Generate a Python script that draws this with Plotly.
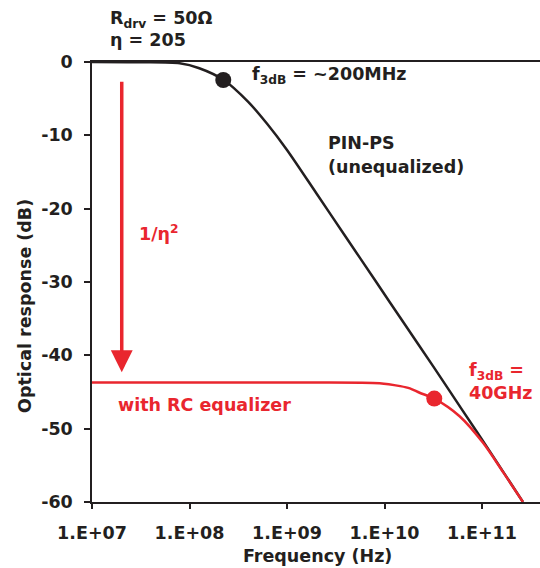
import plotly.graph_objects as go

# ---- data ----
pin_freq_hz = [1.0e7, 3.16e7, 7.94e7, 1.26e8, 2.24e8, 3.98e8, 6.31e8, 1.0e9, 2.0e9,
               3.98e9, 7.94e9, 1.58e10, 3.16e10, 6.31e10, 1.26e11, 2.63e11]
pin_resp_db = [0.0, -0.04, -0.18, -0.85, -2.45, -5.4, -8.5, -12.0, -17.9,
               -23.8, -29.7, -35.6, -41.5, -47.5, -53.5, -60.0]

eq_freq_hz = [1.0e7, 1.26e9, 8.91e9, 1.45e10, 1.82e10, 2.29e10, 3.24e10,
              5.89e10, 1.02e11, 1.66e11, 2.63e11]
eq_resp_db = [-43.7, -43.7, -43.8, -44.2, -44.5, -45.1, -45.9,
              -48.3, -51.9, -56.0, -60.0]

pin_f3db = [2.22e8]
pin_f3db_db = [-2.45]
eq_f3db = [3.24e10]
eq_f3db_db = [-45.9]

x_tickvals = [1e7, 1e8, 1e9, 1e10, 1e11]
x_ticktext = ["1.E+07", "1.E+08", "1.E+09", "1.E+10", "1.E+11"]
y_tickvals = [0, -10, -20, -30, -40, -50, -60]
y_ticktext = ["0", "-10", "-20", "-30", "-40", "-50", "-60"]

BLACK = "#231F20"
RED = "#E9262E"
FONT = "DejaVu Sans"
FS = 17.5

W, H = 540, 568
ML, MR, MT, MB = 92, 0, 62, 66
PW, PH = W - ML - MR, H - MT - MB
DEC_PX = 97.5
x_range = [7.0, 7.0 + PW / DEC_PX]


def px(xp):
    return (xp - ML) / PW


def py(yp):
    return (H - MB - yp) / PH


bold = lambda s: "<b>" + s + "</b>"

fig = go.Figure()
fig.add_trace(go.Scatter(x=pin_freq_hz, y=pin_resp_db, mode="lines",
                         line=dict(color=BLACK, width=2.5, shape="spline", smoothing=0.8),
                         hoverinfo="skip", showlegend=False))
fig.add_trace(go.Scatter(x=eq_freq_hz, y=eq_resp_db, mode="lines",
                         line=dict(color=RED, width=2.5, shape="spline", smoothing=0.8),
                         hoverinfo="skip", showlegend=False))
fig.add_trace(go.Scatter(x=pin_f3db, y=pin_f3db_db, mode="markers",
                         marker=dict(color=BLACK, size=16), showlegend=False))
fig.add_trace(go.Scatter(x=eq_f3db, y=eq_f3db_db, mode="markers",
                         marker=dict(color=RED, size=16), showlegend=False))

texts = [
    (bold("R<sub>drv</sub> = 50Ω"), 108, 19, BLACK),
    (bold("η = 205"), 108, 40, BLACK),
    (bold("f<sub>3dB</sub> = ~200MHz"), 250, 75, BLACK),
    (bold("PIN-PS"), 326, 143, BLACK),
    (bold("(unequalized)"), 326, 167, BLACK),
    (bold("1/η<sup>2</sup>"), 137, 233, RED),
    (bold("with RC equalizer"), 116, 405, RED),
    (bold("f<sub>3dB</sub> ="), 467, 371, RED),
    (bold("40GHz"), 467, 393, RED),
]
for t, x, y, c in texts:
    fig.add_annotation(text=t, xref="paper", yref="paper", x=px(x), y=py(y),
                       xanchor="left", yanchor="middle", showarrow=False,
                       font=dict(family=FONT, size=FS, color=c))

# 1/eta^2 arrow
fig.add_annotation(x=7.305, y=-42.3, ax=7.305, ay=-2.5, xref="x", yref="y",
                   axref="x", ayref="y", showarrow=True, arrowhead=2,
                   arrowsize=1.25, arrowwidth=3.5, arrowcolor=RED, standoff=0, text="")

# axis titles
fig.add_annotation(text=bold("Frequency (Hz)"), xref="paper", yref="paper",
                   x=px(317), y=py(556), xanchor="center", yanchor="middle",
                   showarrow=False, font=dict(family=FONT, size=FS, color=BLACK))
fig.add_annotation(text=bold("Optical response (dB)"), xref="paper", yref="paper",
                   x=px(25), y=py(306), xanchor="center", yanchor="middle",
                   textangle=-90, showarrow=False,
                   font=dict(family=FONT, size=FS, color=BLACK))

fig.update_xaxes(type="log", range=x_range, tickvals=x_tickvals,
                 ticktext=[bold(t) for t in x_ticktext],
                 showgrid=False, zeroline=False, showline=True, linecolor=BLACK,
                 linewidth=1.5, mirror=True, ticks="outside", ticklen=5, tickwidth=1.5,
                 tickcolor=BLACK, ticklabelstandoff=9,
                 tickfont=dict(family=FONT, size=FS, color=BLACK))
fig.update_yaxes(range=[-60, 0], tickvals=y_tickvals,
                 ticktext=[bold(t) for t in y_ticktext],
                 showgrid=False, zeroline=False, showline=True, linecolor=BLACK,
                 linewidth=1.5, ticks="outside", ticklen=6, tickwidth=1.5,
                 tickcolor=BLACK, ticklabelstandoff=8,
                 tickfont=dict(family=FONT, size=FS, color=BLACK))

fig.update_layout(width=W, height=H, margin=dict(l=ML, r=MR, t=MT, b=MB),
                  plot_bgcolor="white", paper_bgcolor="white")

fig.write_html("out.html")
